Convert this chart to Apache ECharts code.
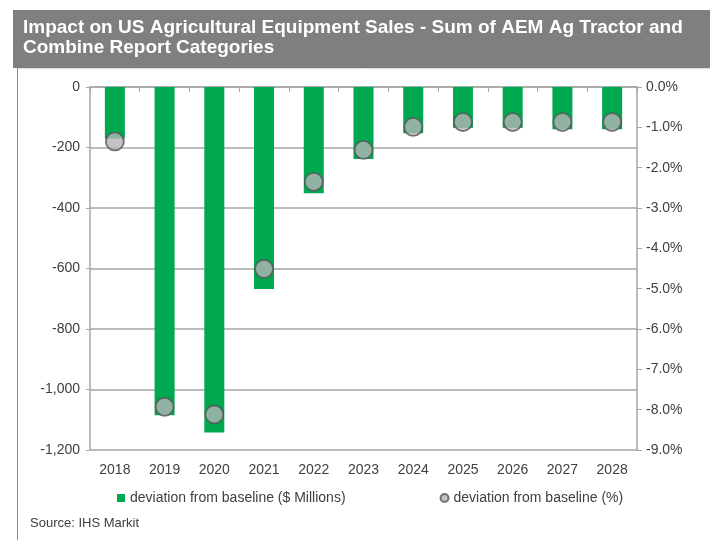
<!DOCTYPE html>
<html>
<head>
<meta charset="utf-8">
<script src="https://cdn.jsdelivr.net/npm/echarts@6/dist/echarts.min.js"></script>
<style>html,body{margin:0;padding:0;background:#fff;}#c{width:710px;height:540px;}</style>
</head>
<body>
<div id="c"></div>
<script>
const years = ['2018','2019','2020','2021','2022','2023','2024','2025','2026','2027','2028'];
const salesDeviation = [-170, -1085, -1142, -668, -351, -238, -153, -135, -135, -140, -140];
const pctDeviation = [-1.35, -7.93, -8.12, -4.51, -2.35, -1.56, -0.99, -0.87, -0.87, -0.87, -0.87];
const leftTicks = { min: -1200, max: 0, interval: 200 };
const rightTicks = { min: -9, max: 0, interval: 1 };
const titleLines = ['Impact on US Agricultural Equipment Sales - Sum of AEM Ag Tractor and', 'Combine Report Categories'];
const seriesNames = ['deviation from baseline ($ Millions)', 'deviation from baseline (%)'];
const sourceText = 'Source: IHS Markit';

const chart = echarts.init(document.getElementById('c'), null, { renderer: 'canvas' });
const txt = '#404040';
const axisGray = '#a6a6a6';
chart.setOption({
  backgroundColor: '#fff',
  animation: false,
  textStyle: { fontFamily: 'Arial, "Liberation Sans", sans-serif' },
  graphic: [
    { type: 'rect', left: 13, top: 10, shape: { width: 697, height: 58 }, style: { fill: '#7f7f7f' } },
    { type: 'line', shape: { x1: 17, y1: 68.5, x2: 710, y2: 68.5 }, style: { stroke: '#dcdcdc', lineWidth: 1 } },
    { type: 'line', shape: { x1: 17.5, y1: 68, x2: 17.5, y2: 540 }, style: { stroke: '#8c8c8c', lineWidth: 1 } },
    { type: 'text', left: 23, top: 18, style: { text: titleLines.join('\n'), fill: '#fff', font: 'bold 19px "Liberation Sans Narrow", "Arial Narrow", Arial, sans-serif', lineHeight: 20 } },
    { type: 'text', left: 30, top: 517, style: { text: sourceText, fill: txt, font: '13px Arial, "Liberation Sans", sans-serif' } }
  ],
  grid: { left: 90, right: 73, top: 87, bottom: 90 },
  legend: {
    left: 112, top: 486, itemWidth: 8, itemHeight: 8, itemGap: 94,
    textStyle: { color: txt, fontSize: 14 },
    data: [ { name: seriesNames[0], icon: 'rect' }, { name: seriesNames[1], icon: 'circle' } ]
  },
  xAxis: [
    {
      type: 'category', data: years, position: 'bottom',
      axisLine: { show: false }, axisTick: { show: false },
      axisLabel: { color: txt, fontSize: 14, margin: 13 }
    },
    {
      type: 'category', data: years, position: 'top',
      axisLine: { show: true, lineStyle: { color: axisGray, width: 1.5 } },
      axisTick: { show: true, inside: true, length: 5, lineStyle: { color: axisGray } },
      axisLabel: { show: false }
    }
  ],
  yAxis: [
    {
      type: 'value', position: 'left', min: leftTicks.min, max: leftTicks.max, interval: leftTicks.interval,
      axisLine: { show: true, lineStyle: { color: axisGray, width: 1.5 } },
      axisTick: { show: true, length: 4, lineStyle: { color: axisGray } },
      splitLine: { show: true, lineStyle: { color: axisGray, width: 1.5 } },
      axisLabel: { color: txt, fontSize: 14, margin: 10, formatter: v => v.toLocaleString('en-US') }
    },
    {
      type: 'value', position: 'right', min: rightTicks.min, max: rightTicks.max, interval: rightTicks.interval,
      axisLine: { show: true, lineStyle: { color: axisGray, width: 1.5 } },
      axisTick: { show: true, length: 5, lineStyle: { color: axisGray } },
      splitLine: { show: false },
      axisLabel: { color: txt, fontSize: 14, margin: 9, formatter: v => v.toFixed(1) + '%' }
    }
  ],
  series: [
    {
      name: seriesNames[0], type: 'bar', xAxisIndex: 0, yAxisIndex: 0, data: salesDeviation,
      barWidth: 20, itemStyle: { color: '#00a84f' }
    },
    {
      name: seriesNames[1], type: 'scatter', xAxisIndex: 0, yAxisIndex: 1, data: pctDeviation,
      symbol: 'circle', symbolSize: 18,
      itemStyle: { color: '#b4b4b8', borderColor: '#555555', borderWidth: 1.8 }
    }
  ]
});
</script>
</body>
</html>
